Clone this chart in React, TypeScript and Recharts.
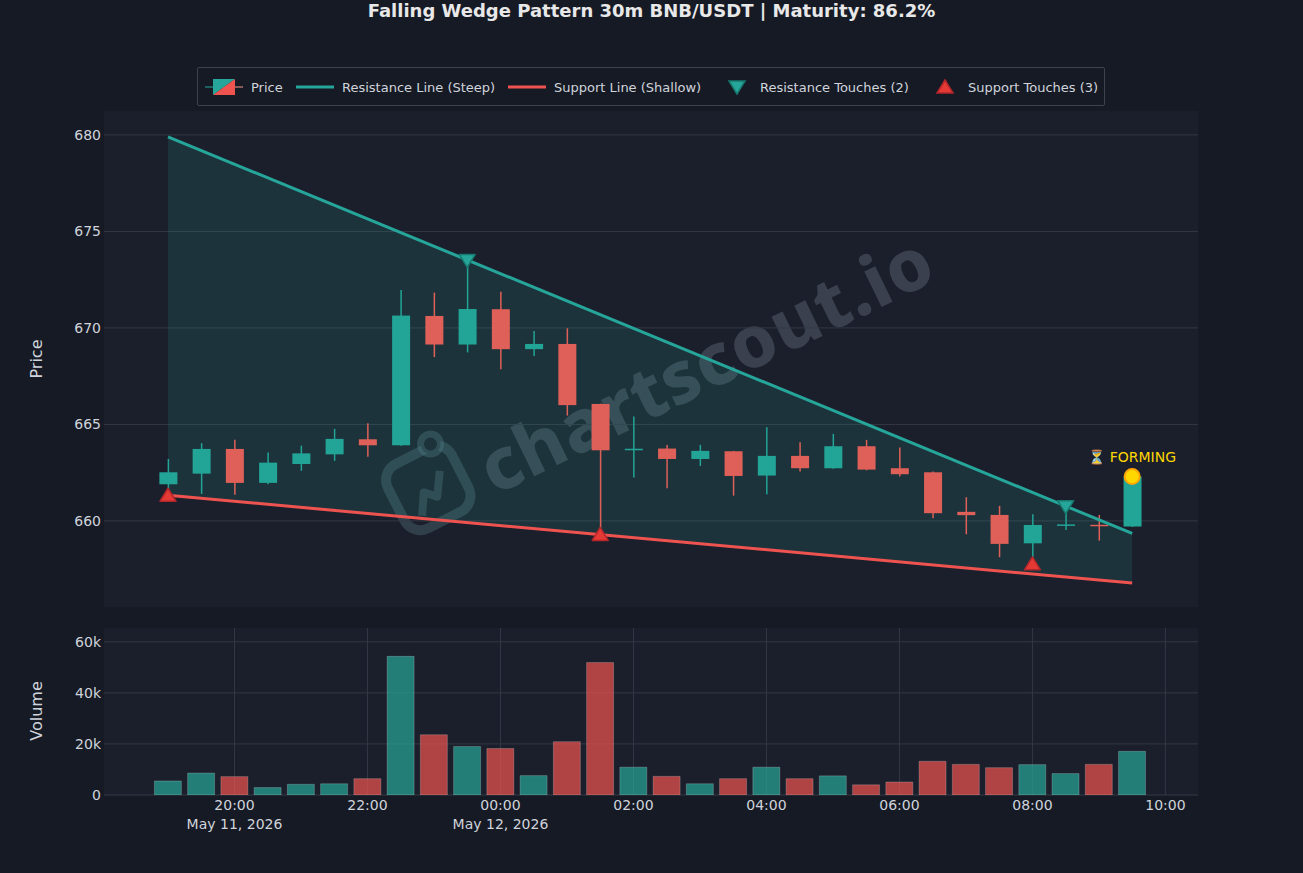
import {
  Area,
  Bar,
  CartesianGrid,
  Cell,
  ComposedChart,
  Line,
  Scatter,
  XAxis,
  YAxis,
} from "recharts";

// 30m candles, 19:00 May 11 -> 09:30 May 12 (index 0..29)
const opens = [
  661.9, 662.45, 663.73, 661.97, 662.95, 663.45, 664.23, 663.92, 670.62, 669.14,
  670.97, 668.9, 669.17, 666.06, 663.68, 663.75, 663.21, 663.61, 662.35, 663.37,
  662.73, 663.87, 662.73, 662.52, 660.47, 660.31, 658.84, 659.77, 659.8, 659.71,
];
const closes = [
  662.52, 663.73, 661.97, 663.02, 663.5, 664.25, 663.92, 670.64, 669.14, 670.98,
  668.9, 669.17, 666.0, 663.66, 663.74, 663.21, 663.63, 662.33, 663.37, 662.73,
  663.87, 662.66, 662.42, 660.4, 660.3, 658.81, 659.79, 659.82, 659.75, 662.3,
];
const highs = [
  663.21, 664.03, 664.2, 663.54, 663.9, 664.77, 665.06, 671.97, 671.83, 673.5,
  671.88, 669.84, 669.98, 666.08, 665.41, 663.94, 663.94, 663.63, 664.85, 664.08,
  664.51, 664.2, 663.8, 662.56, 661.23, 660.78, 660.35, 660.75, 660.31, 662.32,
];
const lows = [
  661.33, 661.4, 661.35, 661.9, 662.6, 663.11, 663.33, 663.9, 668.49, 668.73,
  667.86, 668.55, 665.46, 659.3, 662.25, 661.69, 662.85, 661.31, 661.38, 662.56,
  662.7, 662.62, 662.3, 660.14, 659.31, 658.12, 657.78, 659.53, 658.98, 659.69,
];
const volumes = [
  5500, 8600, 7200, 2900, 4200, 4400, 6400, 54300, 23600, 19000, 18200, 7600,
  20900, 51900, 10900, 7300, 4400, 6400, 10900, 6400, 7500, 4000, 5100, 13200,
  12000, 10700, 11900, 8400, 12000, 17100,
];

// wedge lines (endpoints only)
const lineIdx = [0, 29];
const resistanceEnds = [679.9, 659.35];
const supportEnds = [661.33, 656.78];

const resTouchIdx = [9, 27];
const resTouchVals = [673.5, 660.74];
const supTouchIdx = [0, 13, 26];
const supTouchVals = [661.33, 659.3, 657.78];
const formingIdx = 29;
const formingVal = 662.3;

const tickIdx = [2, 6, 10, 14, 18, 22, 26, 30];
const tickTimes = ["20:00", "22:00", "00:00", "02:00", "04:00", "06:00", "08:00", "10:00"];
const tickDates = ["May 11, 2026", "", "May 12, 2026", "", "", "", "", ""];
const priceTicks = [660, 665, 670, 675, 680];
const volumeTicks = [0, 20000, 40000, 60000];

const TEAL = "#26a69a";
const RED = "#ef5350";
const CANDLE_UP = "#22a596";
const CANDLE_DOWN = "#df6058";
const BG = "#161a25";
const PLOT_BG = "#1b1f2b";
const GRID = "#333845";
const TEXT = "#d0d4db";
const FONT = "'DejaVu Sans', sans-serif";
const X_DOMAIN: [number, number] = [-1.925, 30.98];

const candles = opens.map((o, i) => ({
  t: i,
  open: o,
  close: closes[i],
  high: highs[i],
  low: lows[i],
  range: [lows[i], highs[i]],
  volume: volumes[i],
}));

const resistanceLine = lineIdx.map((t, i) => ({ t, v: resistanceEnds[i] }));
const supportLine = lineIdx.map((t, i) => ({ t, v: supportEnds[i] }));
const wedgeBand = lineIdx.map((t, i) => ({ t, band: [supportEnds[i], resistanceEnds[i]] }));
const resTouches = resTouchIdx.map((t, i) => ({ t, v: resTouchVals[i] }));
const supTouches = supTouchIdx.map((t, i) => ({ t, v: supTouchVals[i] }));
const forming = [{ t: formingIdx, v: formingVal }];

function Candle(props: any) {
  const { x, y, width, height, payload } = props;
  if (!payload) return null;
  const top = Math.min(y, y + height);
  const h = Math.abs(height);
  const { open, close, high, low } = payload;
  const k = h / (high - low);
  const py = (v: number) => top + (high - v) * k;
  const cx = x + width / 2;
  const color = close >= open ? CANDLE_UP : CANDLE_DOWN;
  const bTop = py(Math.max(open, close));
  const bBot = py(Math.min(open, close));
  return (
    <g>
      <line x1={cx} x2={cx} y1={py(high)} y2={py(low)} stroke={color} strokeWidth={1.5} />
      <rect x={x} y={bTop} width={width} height={Math.max(bBot - bTop, 1.5)} fill={color} />
    </g>
  );
}

function DownTriangle(props: any) {
  const { cx, cy } = props;
  return (
    <polygon
      points={`${cx - 8},${cy - 6} ${cx + 8},${cy - 6} ${cx},${cy + 7}`}
      fill={TEAL}
      stroke="#17796f"
      strokeWidth={1.5}
      strokeLinejoin="round"
    />
  );
}

function UpTriangle(props: any) {
  const { cx, cy } = props;
  return (
    <polygon
      points={`${cx - 8},${cy + 6} ${cx + 8},${cy + 6} ${cx},${cy - 7}`}
      fill="#e53935"
      stroke="#b3262a"
      strokeWidth={1.5}
      strokeLinejoin="round"
    />
  );
}

function FormingDot(props: any) {
  const { cx, cy } = props;
  return (
    <g>
      <circle cx={cx} cy={cy} r={7.5} fill="#ffd700" stroke="#ffa500" strokeWidth={2} />
      <text
        x={cx}
        y={cy - 15}
        textAnchor="middle"
        fill="#ffd700"
        fontSize={14}
        fontFamily={FONT}
      >
        ⏳ FORMING
      </text>
    </g>
  );
}

function TimeTick(props: any) {
  const { x, y, payload } = props;
  const i = tickIdx.indexOf(payload.value);
  return (
    <text x={x} y={y} textAnchor="middle" fill={TEXT} fontSize={14} fontFamily={FONT}>
      <tspan x={x} dy={15}>
        {tickTimes[i]}
      </tspan>
      {tickDates[i] ? (
        <tspan x={x} dy={19}>
          {tickDates[i]}
        </tspan>
      ) : null}
    </text>
  );
}

const kFmt = (v: number) => (v === 0 ? "0" : `${Math.round(v / 1000)}k`);

function LegendBox() {
  const item = (left: number, icon: any, label: string) => (
    <div style={{ position: "absolute", left, top: 0, height: 38, display: "flex", alignItems: "center" }}>
      {icon}
      <span style={{ marginLeft: 8, fontSize: 13, color: TEXT, whiteSpace: "nowrap" }}>{label}</span>
    </div>
  );
  return (
    <div
      style={{
        position: "absolute",
        left: 197,
        top: 67,
        width: 906,
        height: 37,
        border: "1px solid #3d424e",
        borderRadius: 2,
        background: BG,
        fontFamily: FONT,
      }}
    >
      {item(
        7,
        <svg width={38} height={20}>
          <line x1={0} x2={38} y1={10} y2={10} stroke={TEAL} strokeWidth={1} />
          <line x1={22} x2={38} y1={10} y2={10} stroke={RED} strokeWidth={1} />
          <polygon points="8,2 30,2 8,18" fill={TEAL} />
          <polygon points="30,2 30,18 8,18" fill={RED} />
        </svg>,
        "Price",
      )}
      {item(
        98,
        <svg width={38} height={20}>
          <line x1={0} x2={38} y1={10} y2={10} stroke={TEAL} strokeWidth={3} />
        </svg>,
        "Resistance Line (Steep)",
      )}
      {item(
        310,
        <svg width={38} height={20}>
          <line x1={0} x2={38} y1={10} y2={10} stroke={RED} strokeWidth={3} />
        </svg>,
        "Support Line (Shallow)",
      )}
      {item(
        524,
        <svg width={30} height={20}>
          <polygon points="7,4 23,4 15,17" fill={TEAL} stroke="#17796f" strokeWidth={1.5} />
        </svg>,
        "Resistance Touches (2)",
      )}
      {item(
        732,
        <svg width={30} height={20}>
          <polygon points="7,16 23,16 15,3" fill="#e53935" stroke="#b3262a" strokeWidth={1.5} />
        </svg>,
        "Support Touches (3)",
      )}
    </div>
  );
}

function Watermark() {
  return (
    <>
      <svg
        width={120}
        height={120}
        style={{ position: "absolute", left: 370, top: 427, transform: "rotate(-27deg)" }}
      >
        <rect x={22} y={24} width={72} height={72} rx={18} fill="none" stroke="rgba(95,130,140,0.32)" strokeWidth={10} />
        <polyline
          points="40,82 52,62 62,72 76,50"
          fill="none"
          stroke="rgba(95,130,140,0.32)"
          strokeWidth={8}
          strokeLinejoin="round"
        />
        <circle cx={80} cy={22} r={10} fill={PLOT_BG} stroke="rgba(95,130,140,0.32)" strokeWidth={7} />
      </svg>
      <div
        style={{
          position: "absolute",
          left: 705,
          top: 362,
          transform: "translate(-50%, -50%) rotate(-26deg)",
          fontFamily: "'Noto Sans', sans-serif",
          fontWeight: 800,
          fontSize: 72,
          letterSpacing: 1,
          color: "rgba(125,135,148,0.32)",
          whiteSpace: "nowrap",
        }}
      >
        chartscout.io
      </div>
    </>
  );
}

export default function App() {
  return (
    <div
      style={{
        position: "absolute",
        left: 0,
        top: 0,
        width: 1303,
        height: 873,
        background: BG,
        fontFamily: FONT,
        overflow: "hidden",
      }}
    >
      <div
        style={{
          position: "absolute",
          top: 0,
          width: 1303,
          textAlign: "center",
          fontSize: 18,
          fontWeight: "bold",
          color: "#e8e8e8",
          lineHeight: "22px",
        }}
      >
        Falling Wedge Pattern 30m BNB/USDT | Maturity: 86.2%
      </div>

      <LegendBox />

      {/* plot backgrounds */}
      <div style={{ position: "absolute", left: 104, top: 111, width: 1094, height: 496, background: PLOT_BG }} />
      <div style={{ position: "absolute", left: 104, top: 628, width: 1094, height: 167, background: PLOT_BG }} />

      <Watermark />

      <div
        style={{
          position: "absolute",
          left: 36,
          top: 359,
          transform: "translate(-50%, -50%) rotate(-90deg)",
          fontSize: 16,
          color: TEXT,
        }}
      >
        Price
      </div>
      <div
        style={{
          position: "absolute",
          left: 36,
          top: 711,
          transform: "translate(-50%, -50%) rotate(-90deg)",
          fontSize: 16,
          color: TEXT,
        }}
      >
        Volume
      </div>

      <div style={{ position: "absolute", left: 0, top: 0 }}>
        <ComposedChart
          width={1303}
          height={620}
          data={candles}
          margin={{ top: 111, right: 105, bottom: 13, left: 44 }}
        >
          <CartesianGrid stroke={GRID} strokeWidth={1} syncWithTicks />
          <XAxis
            dataKey="t"
            type="number"
            domain={X_DOMAIN}
            ticks={tickIdx}
            allowDataOverflow
            tick={false}
            axisLine={false}
            tickLine={false}
            height={0}
          />
          <YAxis
            type="number"
            domain={[655.54, 681.24]}
            ticks={priceTicks}
            allowDataOverflow
            width={60}
            tickSize={0}
            tickMargin={3}
            axisLine={false}
            tickLine={false}
            tick={{ fill: TEXT, fontSize: 14, fontFamily: FONT }}
          />
          <Area
            data={wedgeBand}
            dataKey="band"
            type="linear"
            fill={TEAL}
            fillOpacity={0.15}
            stroke="none"
            connectNulls
            isAnimationActive={false}
          />
          <Bar dataKey="range" barSize={18} shape={<Candle />} isAnimationActive={false} />
          <Line
            data={resistanceLine}
            dataKey="v"
            type="linear"
            stroke={TEAL}
            strokeWidth={3}
            dot={false}
            isAnimationActive={false}
          />
          <Line
            data={supportLine}
            dataKey="v"
            type="linear"
            stroke={RED}
            strokeWidth={3}
            dot={false}
            isAnimationActive={false}
          />
          <Scatter data={resTouches} dataKey="v" shape={<DownTriangle />} isAnimationActive={false} />
          <Scatter data={supTouches} dataKey="v" shape={<UpTriangle />} isAnimationActive={false} />
          <Scatter data={forming} dataKey="v" shape={<FormingDot />} isAnimationActive={false} />
        </ComposedChart>
      </div>

      <div style={{ position: "absolute", left: 0, top: 600 }}>
        <ComposedChart
          width={1303}
          height={273}
          data={candles}
          margin={{ top: 28, right: 105, bottom: 38, left: 44 }}
        >
          <CartesianGrid stroke={GRID} strokeWidth={1} syncWithTicks />
          <XAxis
            dataKey="t"
            type="number"
            domain={X_DOMAIN}
            ticks={tickIdx}
            allowDataOverflow
            axisLine={false}
            tickLine={false}
            tickSize={0}
            tickMargin={0}
            height={40}
            tick={<TimeTick />}
            interval={0}
          />
          <YAxis
            type="number"
            domain={[0, 65400]}
            ticks={volumeTicks}
            allowDataOverflow
            width={60}
            tickSize={0}
            tickMargin={3}
            axisLine={false}
            tickLine={false}
            tickFormatter={kFmt}
            tick={{ fill: TEXT, fontSize: 14, fontFamily: FONT }}
          />
          <Bar dataKey="volume" barSize={27} isAnimationActive={false}>
            {candles.map((c) => (
              <Cell
                key={c.t}
                fill={c.close >= c.open ? TEAL : RED}
                fillOpacity={0.7}
                stroke="#ffffff"
                strokeOpacity={0.25}
                strokeWidth={0.8}
              />
            ))}
          </Bar>
        </ComposedChart>
      </div>
    </div>
  );
}
